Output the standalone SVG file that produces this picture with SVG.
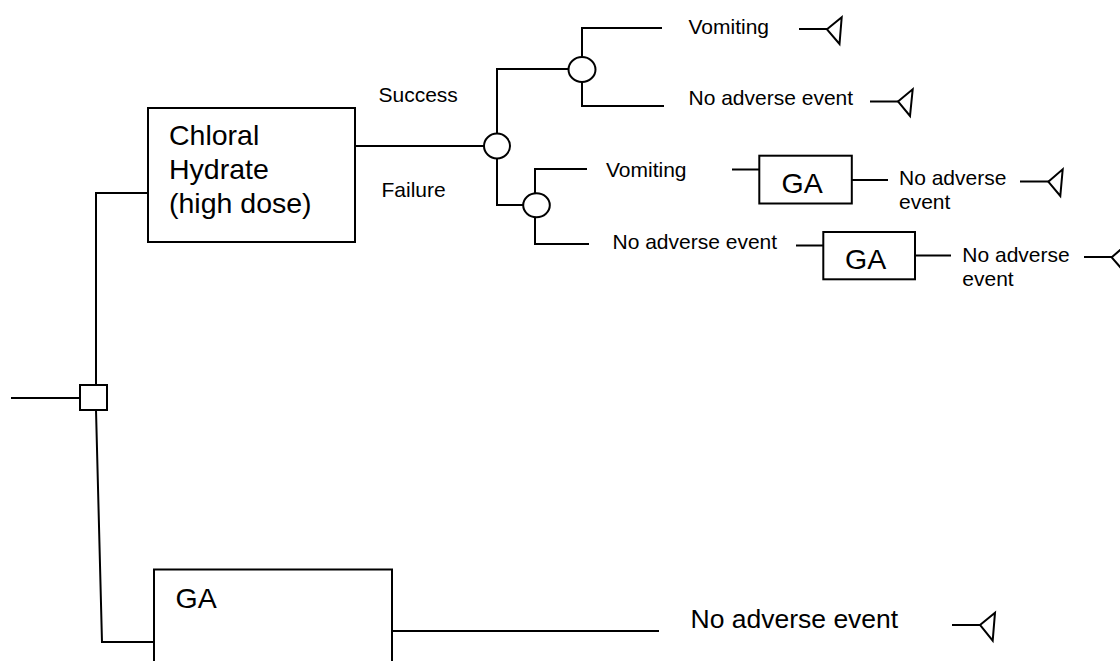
<svg xmlns="http://www.w3.org/2000/svg" width="1120" height="661" viewBox="0 0 1120 661">
  <style>
    .ln { fill: none; stroke: #000; stroke-width: 2; stroke-linecap: square; }
    .box { fill: #fff; stroke: #000; stroke-width: 2; }
    .chance { fill: #fff; stroke: #000; stroke-width: 2; }
    .term { fill: #fff; stroke: #000; stroke-width: 2; stroke-linejoin: miter; }
    text { font-family: "Liberation Sans", Arial, sans-serif; fill: #000; }
    .lbl { font-size: 21px; }
    .big { font-size: 28.5px; }
    .mid { font-size: 26.5px; }
  </style>

  <!-- branch lines -->
  <g id="connectors">
    <!-- root stub and decision arms -->
    <path class="ln" d="M12,398 H80"/>
    <path class="ln" d="M96,385 V193 H148"/>
    <path class="ln" d="M96,410 L102,642 H154"/>
    <!-- chloral hydrate to first chance node -->
    <path class="ln" d="M352,146 H484"/>
    <!-- success / failure arms -->
    <path class="ln" d="M497,133 V69 H568"/>
    <path class="ln" d="M497,158 V205 H523"/>
    <!-- success outcomes -->
    <path class="ln" d="M582,57 V28 H661"/>
    <path class="ln" d="M582,82 V106 H663"/>
    <!-- failure outcomes -->
    <path class="ln" d="M535,193 V169 H586"/>
    <path class="ln" d="M535,217 V244 H588"/>
    <!-- into and out of rescue GA boxes -->
    <path class="ln" d="M733,169.5 H759"/>
    <path class="ln" d="M852,180 H887"/>
    <path class="ln" d="M797,245.5 H823"/>
    <path class="ln" d="M915,255.5 H950"/>
    <!-- GA arm outcome -->
    <path class="ln" d="M392,631 H658"/>
    <!-- terminal stubs -->
    <path class="ln" d="M800,29 H827"/>
    <path class="ln" d="M871,101.5 H898"/>
    <path class="ln" d="M1021,181.5 H1048"/>
    <path class="ln" d="M1085,257 H1112"/>
    <path class="ln" d="M953,625 H980"/>
  </g>

  <!-- decision node -->
  <g id="decision">
    <rect class="box" x="80" y="385" width="27" height="25"/>
  </g>

  <!-- chloral hydrate arm -->
  <g id="chloral-hydrate">
    <rect class="box" x="148" y="108" width="207" height="134"/>
    <text class="big" x="169" y="145">Chloral</text>
    <text class="big" x="169" y="179">Hydrate</text>
    <text class="big" x="169" y="213">(high dose)</text>
  </g>

  <!-- GA arm -->
  <g id="ga-arm">
    <rect class="box" x="154" y="569.5" width="238" height="110"/>
    <text class="big" x="175.5" y="607.5">GA</text>
  </g>

  <!-- chance nodes -->
  <g id="chance-sedation">
    <ellipse class="chance" cx="497" cy="146" rx="13" ry="12.5"/>
    <text class="lbl" x="378.5" y="101.5">Success</text>
    <text class="lbl" x="381.5" y="197">Failure</text>
  </g>
  <g id="chance-success">
    <ellipse class="chance" cx="582" cy="69.5" rx="13.5" ry="12.5"/>
  </g>
  <g id="chance-failure">
    <ellipse class="chance" cx="536.5" cy="205.3" rx="13.3" ry="12"/>
  </g>

  <!-- outcome labels -->
  <g id="outcome-success-vomiting">
    <text class="lbl" x="688.5" y="33.5">Vomiting</text>
  </g>
  <g id="outcome-success-none">
    <text class="lbl" x="688.5" y="105">No adverse event</text>
  </g>
  <g id="outcome-failure-vomiting">
    <text class="lbl" x="606" y="176.5">Vomiting</text>
  </g>
  <g id="outcome-failure-none">
    <text class="lbl" x="612.5" y="249">No adverse event</text>
  </g>

  <!-- rescue GA boxes -->
  <g id="ga-rescue-1">
    <rect class="box" x="759.3" y="155.7" width="92.5" height="47.8"/>
    <text class="big" x="781.5" y="192.7">GA</text>
  </g>
  <g id="ga-rescue-2">
    <rect class="box" x="823.3" y="232" width="91.7" height="47.3"/>
    <text class="big" x="845" y="269.3">GA</text>
  </g>
  <g id="outcome-rescue-1">
    <text class="lbl" x="899" y="185">No adverse</text>
    <text class="lbl" x="899" y="209">event</text>
  </g>
  <g id="outcome-rescue-2">
    <text class="lbl" x="962.3" y="261.5">No adverse</text>
    <text class="lbl" x="962.3" y="285.5">event</text>
  </g>
  <g id="outcome-ga">
    <text class="mid" x="690.5" y="628">No adverse event</text>
  </g>

  <!-- terminal nodes -->
  <g id="terminal-1"><polygon class="term" points="827,29.3 841.7,17.3 839.5,44"/></g>
  <g id="terminal-2"><polygon class="term" points="898,101.5 912.7,89.3 910,116"/></g>
  <g id="terminal-3"><polygon class="term" points="1048.3,181.7 1062.7,169.3 1060.3,196"/></g>
  <g id="terminal-4"><polygon class="term" points="1111.7,257.3 1126,245 1124,271.5"/></g>
  <g id="terminal-5"><polygon class="term" points="980,625 995,612.7 992.7,640.7"/></g>
</svg>
